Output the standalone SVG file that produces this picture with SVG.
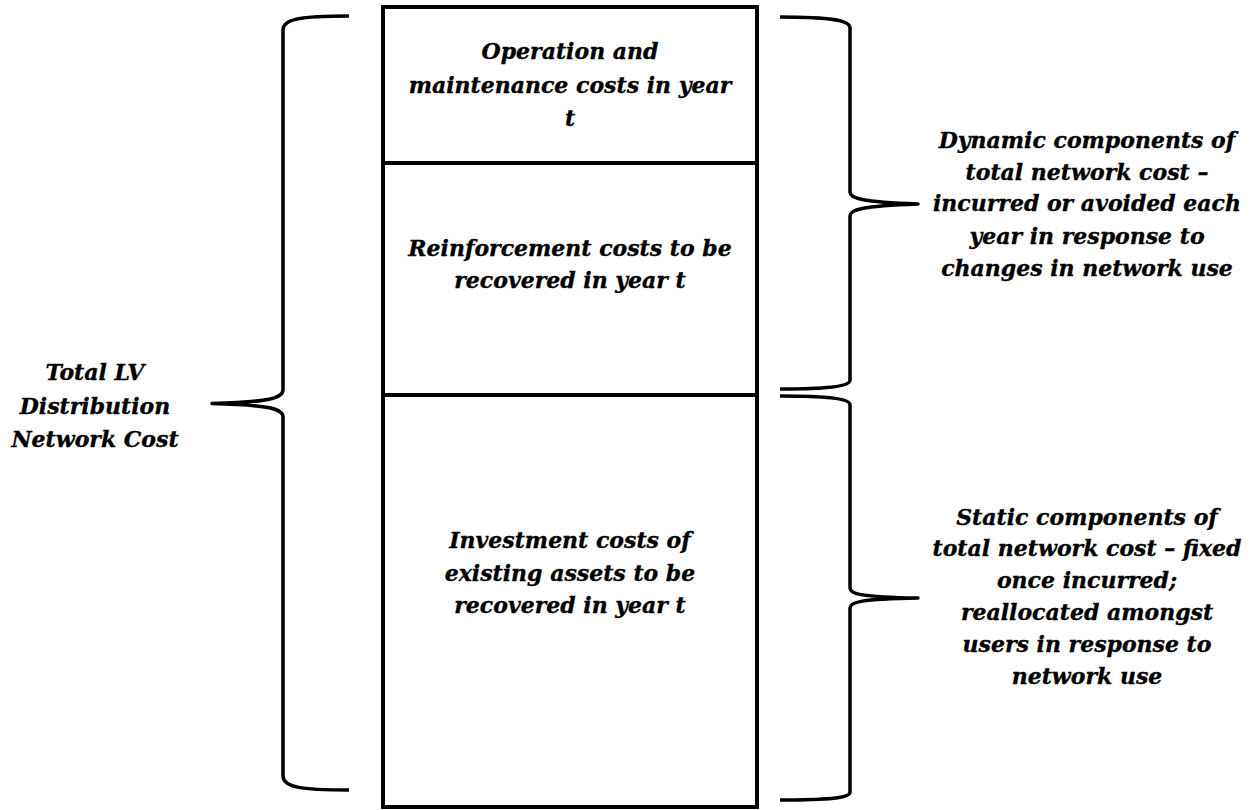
<svg xmlns="http://www.w3.org/2000/svg" width="1254" height="810" viewBox="0 0 1254 810">
<style>
text{font-family:"DejaVu Serif","Liberation Serif",serif;font-weight:bold;font-style:italic;font-size:22px;fill:#000;stroke:#000;stroke-width:0.35;text-anchor:middle}
.box{fill:#fff;stroke:#000;stroke-width:4}
.brace{fill:none;stroke:#000;stroke-width:3.5;stroke-linejoin:round}
</style>
<rect width="1254" height="810" fill="#fff"/>
<g id="connectors">
<path id="brace-left" class="brace" d="M349,16 C300,16 283,19 283,30 L283,390 C283,398 270,402 212,403.5 C270,405 283,409 283,417 L283,776 C283,787 300,790 349,790"/>
<path id="brace-right-top" class="brace" d="M780,17 C830,17 850,20 850,28 L850,192 C850,198 860,202 918,204 C860,206 850,210 850,216 L850,380 C850,386 830,389 780,389"/>
<path id="brace-right-bottom" class="brace" d="M780,396 C830,396 850,399 850,405 L850,588 C850,594 860,597 918,598 C860,599 850,602 850,608 L850,792 C850,798 830,800 780,800"/>
</g>
<g id="node-om">
<rect class="box" x="383" y="7" width="374" height="156"/>
<text x="570" y="59">Operation and</text>
<text x="570" y="93">maintenance costs in year</text>
<text x="570" y="126">t</text>
</g>
<g id="node-reinforcement">
<rect class="box" x="383" y="163" width="374" height="232"/>
<text x="570" y="256">Reinforcement costs to be</text>
<text x="570" y="288">recovered in year t</text>
</g>
<g id="node-investment">
<rect class="box" x="383" y="395" width="374" height="412"/>
<text x="570" y="548">Investment costs of</text>
<text x="570" y="581">existing assets to be</text>
<text x="570" y="613">recovered in year t</text>
</g>
<g id="label-total">
<text x="95" y="380">Total LV</text>
<text x="95" y="414">Distribution</text>
<text x="95" y="447">Network Cost</text>
</g>
<g id="label-dynamic">
<text x="1087" y="148">Dynamic components of</text>
<text x="1087" y="180">total network cost –</text>
<text x="1087" y="211">incurred or avoided each</text>
<text x="1087" y="244">year in response to</text>
<text x="1087" y="276">changes in network use</text>
</g>
<g id="label-static">
<text x="1087" y="525">Static components of</text>
<text x="1087" y="556">total network cost – fixed</text>
<text x="1087" y="588">once incurred;</text>
<text x="1087" y="620">reallocated amongst</text>
<text x="1087" y="652">users in response to</text>
<text x="1087" y="684">network use</text>
</g>
</svg>
